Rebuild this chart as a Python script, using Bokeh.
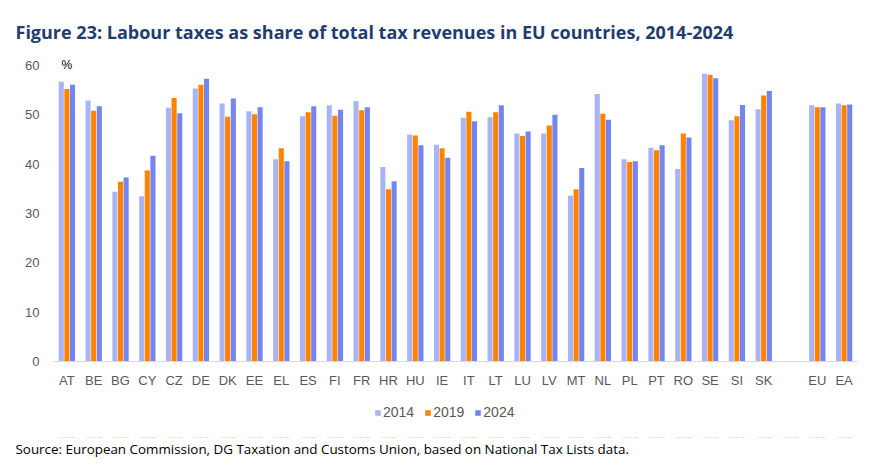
from bokeh.embed import file_html
from bokeh.layouts import column
from bokeh.models import FactorRange, Legend, LegendItem, Label, Title, ColumnDataSource
from bokeh.plotting import figure
from bokeh.resources import INLINE
from bokeh.transform import dodge

countries = ["AT", "BE", "BG", "CY", "CZ", "DE", "DK", "EE", "EL", "ES", "FI", "FR", "HR", "HU",
             "IE", "IT", "LT", "LU", "LV", "MT", "NL", "PL", "PT", "RO", "SE", "SI", "SK", " ", "EU", "EA"]

y2014 = [56.7, 52.9, 34.4, 33.5, 51.4, 55.3, 52.3, 50.7, 41.0, 49.7, 51.9, 52.8, 39.4, 46.0,
         43.9, 49.4, 49.5, 46.2, 46.2, 33.6, 54.2, 41.0, 43.3, 39.0, 58.3, 48.9, 51.1, 0, 51.9, 52.3]
y2019 = [55.2, 50.8, 36.4, 38.7, 53.4, 56.1, 49.6, 50.1, 43.2, 50.5, 49.8, 50.9, 34.9, 45.8,
         43.2, 50.6, 50.5, 45.7, 47.8, 34.9, 50.2, 40.4, 42.8, 46.2, 58.1, 49.7, 53.9, 0, 51.5, 51.9]
y2024 = [56.1, 51.7, 37.3, 41.7, 50.3, 57.3, 53.3, 51.5, 40.6, 51.7, 51.0, 51.5, 36.5, 43.8,
         41.3, 48.7, 51.9, 46.6, 50.0, 39.2, 49.0, 40.6, 43.8, 45.4, 57.4, 52.0, 54.8, 0, 51.5, 52.1]

years = ["2014", "2019", "2024"]
colors = ["#AAB4F5", "#FF8200", "#7485EF"]

source = ColumnDataSource(data=dict(x=countries, y2014=y2014, y2019=y2019, y2024=y2024))

# main chart
p = figure(x_range=FactorRange(*countries, range_padding=0), y_range=(0, 61.6),
           width=873, height=390,
           min_border_left=53, min_border_right=16, min_border_top=57, min_border_bottom=26,
           output_backend="svg", toolbar_location=None)

p.title.text = "Figure 23: Labour taxes as share of total tax revenues in EU countries, 2014-2024"
p.title.text_font = "Open Sans"
p.title.text_font_size = "18px"
p.title.text_font_style = "bold"
p.title.text_color = "#1F3D6E"
p.title.offset = -38
p.title.standoff = 28

for i, (yr, col) in enumerate(zip(years, colors)):
    p.vbar(x=dodge("x", (i - 1) * 0.21, range=p.x_range), top="y" + yr, width=0.19,
           source=source, color=col, line_color=None)

p.xgrid.grid_line_color = None
p.ygrid.grid_line_color = None
p.outline_line_color = None

p.yaxis.axis_line_color = None
p.yaxis.major_tick_line_color = None
p.yaxis.minor_tick_line_color = None
p.yaxis.ticker = [0, 10, 20, 30, 40, 50, 60]
p.yaxis.major_label_standoff = 8
p.xaxis.axis_line_color = "#D9D9D9"
p.xaxis.major_tick_line_color = None
p.xaxis.minor_tick_line_color = None
for ax in (p.xaxis, p.yaxis):
    ax.major_label_text_font = "Liberation Sans"
    ax.major_label_text_font_size = "13px"
    ax.major_label_text_color = "#595959"

p.add_layout(Label(x=8, y=60, x_units="screen", text="%", text_font="Liberation Sans",
                   text_font_size="12px", text_color="#000000", text_baseline="middle"))

# legend + source strip (bars sit far below its visible range, only the legend shows)
f = figure(width=873, height=67, x_range=p.x_range, y_range=(1000, 1001),
           min_border_left=53, min_border_right=16, min_border_top=0, min_border_bottom=0,
           output_backend="svg", toolbar_location=None)
f.axis.visible = False
f.grid.visible = False
f.outline_line_color = None

items = []
for i, (yr, col) in enumerate(zip(years, colors)):
    r = f.vbar(x=dodge("x", (i - 1) * 0.21, range=f.x_range), top="y" + yr, width=0.19,
               source=source, color=col, line_color=None)
    items.append(LegendItem(label=yr, renderers=[r]))

legend = Legend(items=items, orientation="horizontal", location=(321, 17),
                border_line_color=None, background_fill_alpha=0,
                label_text_font="Liberation Sans", label_text_font_size="14px",
                label_text_color="#595959", glyph_width=7, glyph_height=7, spacing=10,
                label_standoff=2, padding=0, margin=0)
f.add_layout(legend)

f.add_layout(Title(text="Source: European Commission, DG Taxation and Customs Union, based on National Tax Lists data.",
                   align="left", offset=-38, text_font="Open Sans", text_font_size="13.4px",
                   text_font_style="normal", text_color="#000000", standoff=0), "below")

open("out.html", "w").write(file_html(column(p, f), INLINE))
